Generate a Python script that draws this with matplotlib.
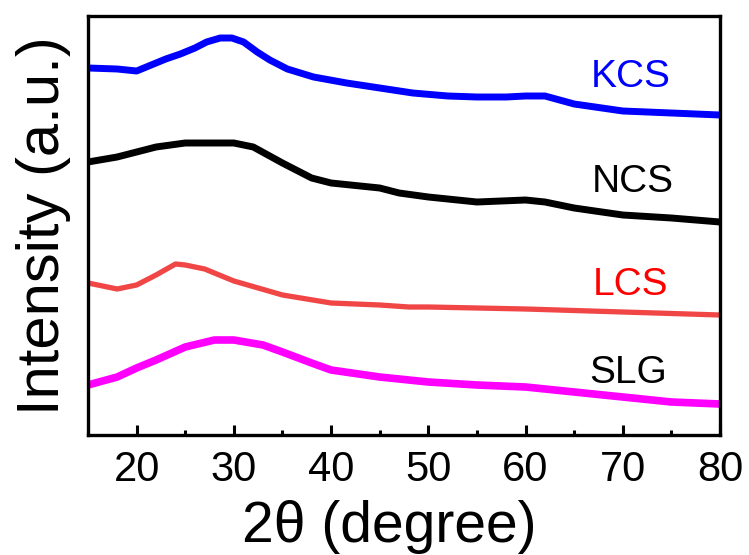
import matplotlib
matplotlib.use("Agg")
import matplotlib.pyplot as plt
from matplotlib.ticker import MultipleLocator

plt.rcParams['font.family'] = ['Liberation Sans', 'DejaVu Sans']

# 2theta positions (degree) and intensities (a.u., offset stacked)
kcs_x = [15, 18, 20, 23, 24.5, 26, 27.2, 28.6, 29.8, 31, 32.4, 33.7, 35.5, 38.2, 41.6, 45, 48.4, 52, 55, 58, 60, 62, 65, 70, 75, 80]
kcs_y = [367, 366, 364, 376, 381, 387, 393, 397, 397, 393, 383, 375, 366, 358, 352, 347, 342, 339, 338, 338, 339, 339, 331, 324, 322, 320]

ncs_x = [15, 18, 20, 22, 25, 28, 30, 32, 35, 38, 40, 45, 47, 50, 55, 60, 62, 65, 70, 75, 80]
ncs_y = [273, 278, 283, 288, 292, 292, 292, 288, 272, 257, 252, 247, 242, 238, 233, 235, 233, 227, 220, 217, 213]

lcs_x = [15, 18, 20, 22, 24, 25, 27, 30, 35, 40, 45, 48, 50, 60, 70, 80]
lcs_y = [152, 146, 150, 160, 171, 170, 166, 154, 140, 132, 130, 128, 128, 126, 123, 120]

slg_x = [15, 18, 20, 22, 25, 28, 30, 33, 35, 38, 40, 45, 48, 50, 55, 60, 65, 70, 75, 80]
slg_y = [50, 58, 67, 75, 88, 95, 95, 90, 83, 72, 65, 58, 55, 53, 50, 48, 43, 38, 33, 31]

labels = ['KCS', 'NCS', 'LCS', 'SLG']
line_colors = ['#0000FF', '#000000', '#F04646', '#FF00FF']
text_colors = ['#0000FF', '#000000', '#FF0000', '#000000']
label_x = [70.8, 71.0, 70.8, 70.6]
label_y = [358, 253, 150, 62]

fig = plt.figure(figsize=(7.49, 5.55), dpi=100)
ax = fig.add_axes([88/749, 120/555, (720-88)/749, (435-16)/555])

series = [(kcs_x, kcs_y), (ncs_x, ncs_y), (lcs_x, lcs_y), (slg_x, slg_y)]
widths = [5.0, 5.0, 3.8, 5.5]
for (xs, ys), c, w in zip(series, line_colors, widths):
    ax.plot(xs, ys, color=c, lw=w, solid_joinstyle='round', solid_capstyle='butt')

for lab, tx, ty, tc in zip(labels, label_x, label_y, text_colors):
    ax.text(tx, ty, lab, color=tc, fontsize=28, ha='center', va='center')

ax.set_xlim(15, 80)
ax.set_ylim(0, 419)
ax.xaxis.set_major_locator(MultipleLocator(10))
ax.xaxis.set_minor_locator(MultipleLocator(5))
ax.set_yticks([])
ax.tick_params(axis='x', which='major', direction='in', length=7, width=2.2,
               labelsize=30, pad=11, top=False)
ax.tick_params(axis='x', which='minor', direction='in', length=3.5, width=2.2, top=False)
for s in ax.spines.values():
    s.set_linewidth(2.4)

ax.set_xlabel('2\u03b8 (degree)', fontsize=41)
ax.xaxis.set_label_coords(0.476, -0.155)
ax.set_ylabel('Intensity (a.u.)', fontsize=43, labelpad=12)

fig.savefig('out.png', dpi=100)
